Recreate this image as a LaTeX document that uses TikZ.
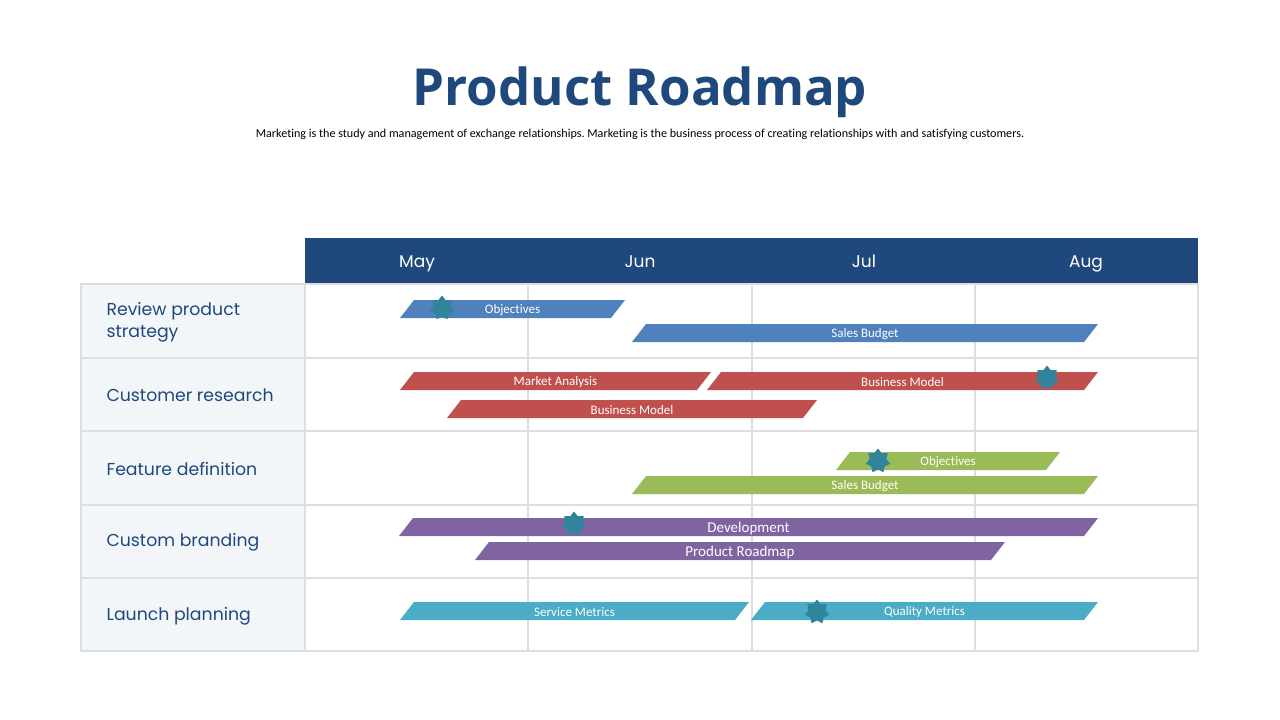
\documentclass[tikz,border=0pt]{standalone}
\usepackage{fontspec}
\setmainfont{Carlito}[Ligatures=NoCommon]
\newfontfamily\rowfont{Poppins}
\newfontfamily\titlefont{Open Sans}
\usetikzlibrary{shapes.geometric}
\definecolor{roadnavy}{HTML}{1F497D}
\definecolor{barblue}{HTML}{4F81BD}
\definecolor{barred}{HTML}{C0504D}
\definecolor{bargreen}{HTML}{9BBB59}
\definecolor{barpurple}{HTML}{8064A2}
\definecolor{baraqua}{HTML}{4BACC6}
\definecolor{starteal}{HTML}{31849B}
\definecolor{gridgray}{HTML}{DCDFE2}
\definecolor{cellgray}{HTML}{F3F6F8}

% slanted bar: name, colour, left x, right x, centre y, text style, text
\newcommand\roadbar[7]{%
  \fill[#2] ({#3},{#5+9}) -- ({#3+14},{#5-9}) -- ({#4},{#5-9}) -- ({#4-14},{#5+9}) -- cycle;
  \node[#6] (#1) at ({(#3+#4)/2},#5) {#7};
}

\begin{document}
\frenchspacing
\begin{tikzpicture}[
    x=1pt, y=-1pt,
    bartext/.style={text=white, inner sep=0pt, yshift=-1pt, font=\fontsize{13}{14}\selectfont},
    bigtext/.style={bartext, font=\fontsize{15}{16}\selectfont},
    milestone/.style={
      star, star points=7, star point ratio=1.45,
      minimum size=25pt, inner sep=0pt, fill=starteal,
    },
    month/.style={font=\rowfont\fontsize{17}{20}\selectfont, text=white, anchor=base},
    rowlab/.style={font=\rowfont\fontsize{17.3}{22}\selectfont, text=roadnavy,
      anchor=west, align=left},
    gridline/.style={draw=gridgray, line width=1.2pt},
  ]
  \useasboundingbox (0,0) rectangle (1280,720);

  % ---- Title ----
  \node[font=\titlefont\bfseries\fontsize{51}{60}\selectfont, text=roadnavy] (title) at (640,92) {Product Roadmap};
  \node[font=\fontsize{12.1}{14}\selectfont] (sub) at (640,134) {Marketing is the study and management of exchange relationships. Marketing is the business process of creating relationships with and satisfying customers.};

  % ---- Table ----
  \fill[cellgray] (81,284) rectangle (305,651);
  \fill[roadnavy] (305,238) rectangle (1198,283);
  \draw[gridline] (81,284) rectangle (1198,651);
  \draw[gridline] (81,358) -- (1198,358);
  \draw[gridline] (81,431) -- (1198,431);
  \draw[gridline] (81,505) -- (1198,505);
  \draw[gridline] (81,578) -- (1198,578);
  \draw[gridline] (305,284) -- (305,651);
  \draw[gridline] (528,284) -- (528,651);
  \draw[gridline] (752,284) -- (752,651);
  \draw[gridline] (975,284) -- (975,651);

  % ---- Months ----
  \node[month] (may) at (417,267) {May};
  \node[month] (jun) at (640,267) {Jun};
  \node[month] (jul) at (864,267) {Jul};
  \node[month] (aug) at (1086,267) {Aug};

  % ---- Row labels ----
  \node[rowlab] (review)   at (103,322) {Review product\\strategy};
  \node[rowlab] (customer) at (103,395) {Customer research};
  \node[rowlab] (feature)  at (103,469) {Feature definition};
  \node[rowlab] (brand)    at (103,542) {Custom branding};
  \node[rowlab] (launch)   at (103,616) {Launch planning};

  % ---- Review product strategy ----
  \roadbar{objA}{barblue}{400}{625}{309}{bartext}{Objectives}
  \roadbar{salesA}{barblue}{632}{1098}{333}{bartext}{Sales Budget}
  \node[milestone] (starA) at (442,308) {};

  % ---- Customer research ----
  \roadbar{market}{barred}{400}{711}{381}{bartext}{Market Analysis}
  \roadbar{bizA}{barred}{707}{1098}{381}{bartext}{Business Model}
  \roadbar{bizB}{barred}{447}{817}{409}{bartext}{Business Model}
  \node[milestone] (starB) at (1047,378) {};

  % ---- Feature definition ----
  \roadbar{objB}{bargreen}{836}{1060}{461}{bartext}{Objectives}
  \roadbar{salesB}{bargreen}{632}{1098}{485}{bartext}{Sales Budget}
  \node[milestone] (starC) at (878,461) {};

  % ---- Custom branding ----
  \roadbar{devel}{barpurple}{399}{1098}{527}{bigtext}{Development}
  \roadbar{prodmap}{barpurple}{475}{1005}{551}{bigtext}{Product Roadmap}
  \node[milestone] (starD) at (574,524) {};

  % ---- Launch planning ----
  \roadbar{service}{baraqua}{400}{749}{611}{bartext}{Service Metrics}
  \roadbar{quality}{baraqua}{751}{1098}{611}{bartext}{Quality Metrics}
  \node[milestone] (starE) at (817,612) {};

\end{tikzpicture}
\end{document}
